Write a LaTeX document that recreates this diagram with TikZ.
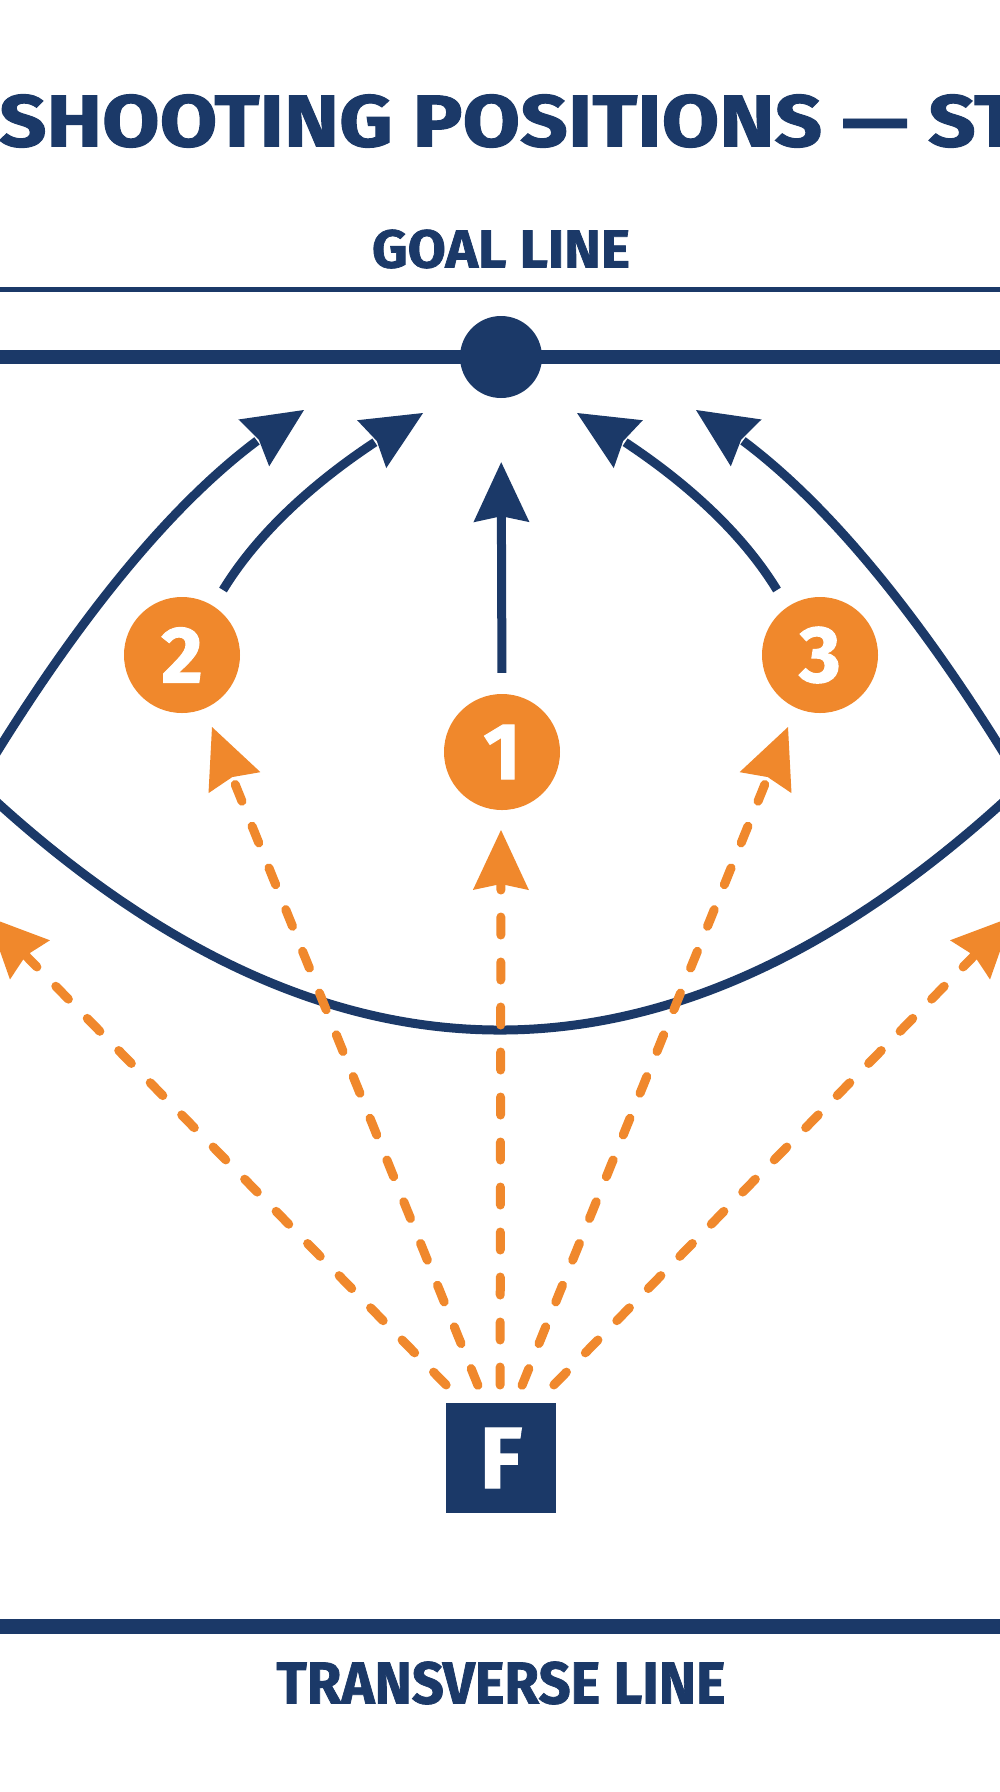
\documentclass[tikz,border=0pt]{standalone}
\usepackage{fontspec}
\setmainfont{Fira Sans}[BoldFeatures={FakeBold=1.3}]
\usetikzlibrary{arrows.meta,calc,bending}
\definecolor{navy}{RGB}{27,57,104}
\definecolor{orng}{RGB}{240,136,44}
\begin{document}
\begin{tikzpicture}[x=1pt,y=-1pt,
  navyline/.style={draw=navy,line width=9pt},
  navytip/.style={-{Stealth[length=60pt,width=56pt,inset=6pt,line width=0pt,flex]}},
  pass/.style={draw=orng,line width=9pt,line cap=round,dash pattern=on 18pt off 27pt,
    -{Stealth[length=60pt,width=56pt,inset=6pt,line width=0pt,fill=orng]}},
  player/.style={circle,fill=orng,minimum size=116pt,inner sep=0pt,text=white,
    font=\bfseries\fontsize{80}{80}\selectfont},
  label/.style={inner sep=0pt,text=navy,font=\bfseries}
]
\useasboundingbox (0,0) rectangle (1000,1792);
\clip (0,0) rectangle (1000,1792);
\fill[white] (0,0) rectangle (1000,1792);

% title and labels
\node[label] (title) at (509,121) {\resizebox{1020pt}{52pt}{SHOOTING POSITIONS — ST}};
\node[label] (goallbl) at (501,249) {\resizebox{258pt}{38pt}{GOAL LINE}};
\node[label] (translbl) at (501,1683) {\resizebox{449pt}{42pt}{TRANSVERSE LINE}};

% field lines
\draw[navy,line width=5pt] (-5,289) -- (1005,289);
\draw[navy,line width=14pt] (-5,357) -- (1005,357);
\draw[navy,line width=15pt] (-5,1626) -- (1005,1626);

% goal
\node[circle,fill=navy,minimum size=82pt,inner sep=0pt] (goal) at (501,357) {};

% shooting circle (bottom arc)
\draw[navyline] (-30,777.2) .. controls (323.3,1114.3) and (676.7,1114.3) .. (1030,777.2);

% players
\node[player] (c1) at (502,752) {1};
\node[player] (c2) at (182,655) {2};
\node[player] (c3) at (820,655) {3};

% feeder
\node[fill=navy,minimum width=110pt,minimum height=110pt,inner sep=0pt,text=white,
  font=\bfseries\fontsize{87}{87}\selectfont] (F) at (501,1458) {F};

% coordinates
\coordinate (oL) at (-20,779);
\coordinate (oLa) at (0,747);
\coordinate (tipOL) at (304,410);
\coordinate (oR) at (1020,779);
\coordinate (oRa) at (1000,747);
\coordinate (tipOR) at (696,410);
\coordinate (s2) at (223,590);
\coordinate (tip2) at (423,413);
\coordinate (s3) at (777,590);
\coordinate (tip3) at (577,413);

% navy shot arrows
\draw[navyline,navytip] (oL) -- (oLa) .. controls (100,587) and (204,466) .. (tipOL);
\draw[navyline,navytip] (oR) -- (oRa) .. controls (900,587) and (796,466) .. (tipOR);
\draw[navyline,navytip] (s2) .. controls (270,513) and (353,452) .. (tip2);
\draw[navyline,navytip] (s3) .. controls (730,513) and (647,452) .. (tip3);
\draw[navyline,navytip,shorten <=21pt,shorten >=64pt] (c1.north) -- (goal.south);

% orange passes from feeder
\coordinate (fan) at (500,1440);
\coordinate (p1) at (501,830);
\coordinate (p2) at (212,727);
\coordinate (p3) at (788,727);
\coordinate (pL) at (-12,917);
\coordinate (pR) at (1012,917);
\draw[pass,shorten <=55pt] (fan) -- (p1);
\draw[pass,shorten <=59pt] (fan) -- (p2);
\draw[pass,shorten <=59pt] (fan) -- (p3);
\draw[pass,shorten <=77pt] (fan) -- (pL);
\draw[pass,shorten <=77pt] (fan) -- (pR);
\end{tikzpicture}
\end{document}
